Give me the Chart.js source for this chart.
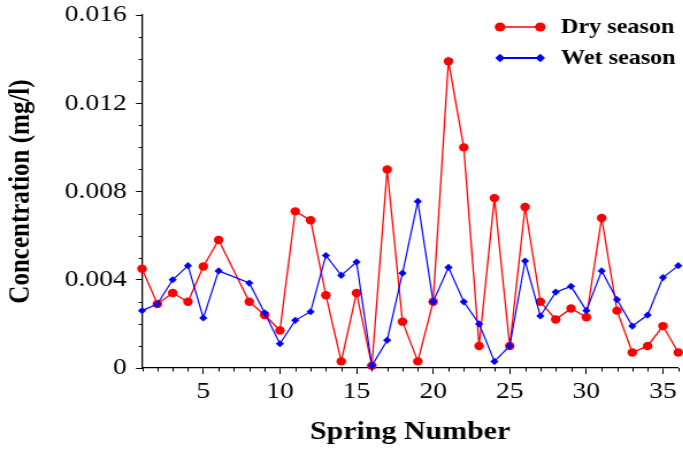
<!DOCTYPE html>
<html>
<head>
<meta charset="utf-8">
<script src="https://cdn.jsdelivr.net/npm/chart.js@4/dist/chart.umd.min.js"></script>
<style>
  html, body { margin: 0; padding: 0; background: #fff; overflow: hidden; }
  #wrap { width: 594px; height: 450px; transform: scaleX(1.15); transform-origin: 0 0; }
</style>
</head>
<body>
<div id="wrap"><canvas id="chart" width="594" height="450"></canvas></div>
<script>
// spring 7 has no sample in either season
const springs = [1, 2, 3, 4, 5, 6, 8, 9, 10, 11, 12, 13, 14, 15, 16, 17, 18, 19, 20, 21, 22, 23, 24, 25, 26, 27, 28, 29, 30, 31, 32, 33, 34, 35, 36];
const drySeason = [0.0045, 0.0029, 0.0034, 0.0030, 0.0046, 0.0058, 0.0030, 0.0024, 0.0017, 0.0071, 0.0067, 0.0033, 0.0003, 0.0034, 0.0001, 0.0090, 0.0021, 0.0003, 0.0030, 0.0139, 0.0100, 0.0010, 0.0077, 0.0010, 0.0073, 0.0030, 0.0022, 0.0027, 0.0023, 0.0068, 0.0026, 0.0007, 0.0010, 0.0019, 0.0007];
const wetSeason = [0.0026, 0.0029, 0.0040, 0.00464, 0.00227, 0.0044, 0.00385, 0.0025, 0.0011, 0.00216, 0.00255, 0.0051, 0.0042, 0.0048, 0.0001, 0.00126, 0.0043, 0.00755, 0.0030, 0.00456, 0.0030, 0.0020, 0.0003, 0.0010, 0.00485, 0.00236, 0.00344, 0.0037, 0.0026, 0.0044, 0.0031, 0.0019, 0.0024, 0.0041, 0.00464];
const seriesNames = ['Dry season', 'Wet season'];
const yTickLabels = ['0', '0.004', '0.008', '0.012', '0.016'];
const xTickLabels = [5, 10, 15, 20, 25, 30, 35];

const serif = "'Liberation Serif', 'Times New Roman', serif";
const toPoints = vals => springs.map((s, i) => ({ x: s, y: vals[i] }));
const isMajorY = v => yTickLabels.includes(v === 0 ? '0' : v.toFixed(3)) && Math.abs(v * 1000 - Math.round(v * 1000)) < 1e-6;
const isMajorX = v => xTickLabels.includes(v);

// minor ticks are shorter than labelled ones, so draw them here
const minorTicks = {
    id: 'minorTicks',
    afterDraw(chart) {
        const ctx = chart.ctx, x = chart.scales.x, y = chart.scales.y;
        ctx.save();
        ctx.strokeStyle = '#000';
        ctx.lineWidth = 1;
        ctx.beginPath();
        y.ticks.forEach(t => {
            if (isMajorY(t.value)) return;
            const py = Math.round(y.getPixelForValue(t.value)) + 0.5;
            ctx.moveTo(y.right, py); ctx.lineTo(y.right - 2.8, py);
        });
        x.ticks.forEach(t => {
            if (isMajorX(t.value)) return;
            const px = Math.round(x.getPixelForValue(t.value)) + 0.5;
            ctx.moveTo(px, x.top); ctx.lineTo(px, x.top + 3.5);
        });
        ctx.stroke();
        ctx.restore();
    }
};

const insideLegend = {
    id: 'insideLegend',
    afterDraw(chart) {
        const ctx = chart.ctx, right = chart.chartArea.right;
        const rows = [
            { label: seriesNames[0], color: '#ff0000', style: 'circle', y: 27 },
            { label: seriesNames[1], color: '#0000ff', style: 'diamond', y: 58 }
        ];
        ctx.save();
        rows.forEach(r => {
            const x0 = right - 155, x1 = right - 120;
            ctx.strokeStyle = r.color;
            ctx.fillStyle = r.color;
            ctx.lineWidth = r.style === 'circle' ? 1.3 : 1.8;
            ctx.beginPath(); ctx.moveTo(x0, r.y); ctx.lineTo(x1, r.y); ctx.stroke();
            [x0, x1].forEach(px => {
                ctx.beginPath();
                if (r.style === 'circle') {
                    ctx.arc(px, r.y, 4.6, 0, Math.PI * 2);
                } else {
                    ctx.moveTo(px, r.y - 4.2); ctx.lineTo(px + 4.2, r.y); ctx.lineTo(px, r.y + 4.2); ctx.lineTo(px - 4.2, r.y);
                    ctx.closePath();
                }
                ctx.fill();
            });
            ctx.fillStyle = '#000';
            ctx.font = `bold 21px ${serif}`;
            ctx.textBaseline = 'middle';
            ctx.textAlign = 'left';
            ctx.fillText(r.label, right - 102, r.y + 1);
        });
        ctx.restore();
    }
};

new Chart(document.getElementById('chart'), {
    type: 'line',
    data: {
        datasets: [
            { label: seriesNames[0], data: toPoints(drySeason), borderColor: '#ff0000', backgroundColor: '#ff0000', borderWidth: 1.3, pointStyle: 'circle', pointRadius: 4.2, pointBorderWidth: 0, tension: 0, clip: false, order: 1 },
            { label: seriesNames[1], data: toPoints(wetSeason), borderColor: '#0000ff', backgroundColor: '#0000ff', borderWidth: 1.2, pointStyle: 'rectRot', pointRadius: 3.6, pointBorderWidth: 0, tension: 0, clip: false, order: 0 }
        ]
    },
    options: {
        responsive: false,
        animation: false,
        layout: { padding: { top: 15, right: 1.5, left: 0, bottom: 0 } },
        plugins: { legend: { display: false }, tooltip: { enabled: false } },
        scales: {
            x: {
                type: 'linear',
                min: 1,
                max: 36,
                afterFit: s => { s.height = 82; },
                border: { display: true, color: '#000', width: 1.3 },
                grid: { display: true, drawOnChartArea: false, drawTicks: true, tickLength: 6, tickWidth: 1, tickColor: c => isMajorX(c.tick.value) ? '#000' : 'rgba(0,0,0,0)' },
                ticks: { stepSize: 1, autoSkip: false, maxRotation: 0, padding: 3, color: '#000', font: { family: serif, size: 24 }, callback: v => isMajorX(v) ? String(v) : '' },
                title: { display: true, text: 'Spring Number', color: '#000', font: { family: serif, size: 26, weight: 'bold' }, padding: { top: 0, bottom: 2 } }
            },
            y: {
                min: 0,
                max: 0.016,
                afterFit: s => { s.width = 123.5; s.paddingTop = 0; s.paddingBottom = 0; },
                border: { display: true, color: '#000', width: 1.3 },
                grid: { display: true, drawOnChartArea: false, drawTicks: true, tickLength: 5.2, tickWidth: 1, tickColor: c => isMajorY(c.tick.value) ? '#000' : 'rgba(0,0,0,0)' },
                ticks: { stepSize: 0.001, autoSkip: false, padding: 8, color: '#000', font: { family: serif, size: 24 }, callback: v => isMajorY(v) ? (v === 0 ? '0' : v.toFixed(3)) : '' },
                title: { display: true, text: 'Concentration (mg/l)', color: '#000', font: { family: serif, size: 25, weight: 'bold' }, padding: { top: 4, bottom: 0 } }
            }
        }
    },
    plugins: [minorTicks, insideLegend]
});
</script>
</body>
</html>
